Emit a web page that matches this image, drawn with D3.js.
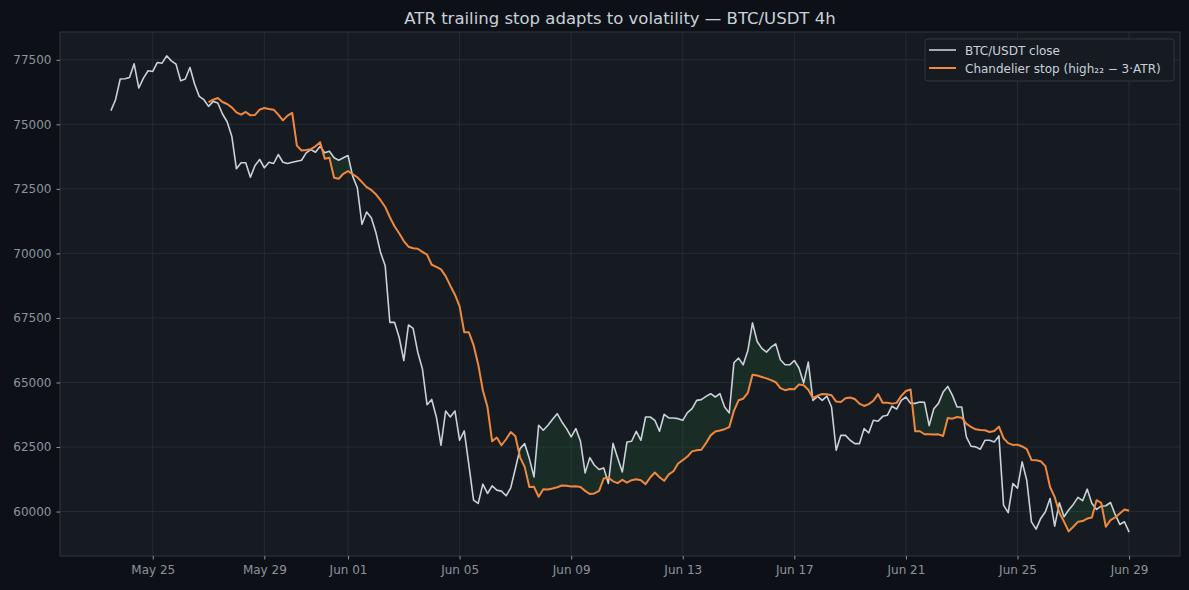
<!DOCTYPE html>
<html>
<head>
<meta charset="utf-8">
<script src="https://cdn.jsdelivr.net/npm/d3@7"></script>
<style>
  html, body { margin: 0; padding: 0; background: #0d1117; }
  #chart { width: 1189px; height: 590px; }
  text { font-family: "DejaVu Sans", sans-serif; }
</style>
</head>
<body>
<div id="chart"></div>
<script>
// BTC/USDT 4h candles, first close at May 23 12:00
var startTime = new Date(2024, 4, 23, 12, 0);
var stepHours = 4;

var closeValues = [
  75530, 75955, 76755, 76766, 76817, 77345, 76407, 76793, 77075, 77050,
  77397, 77370, 77655, 77460, 77334, 76689, 76755, 77203, 76561, 76083,
  75955, 75696, 75890, 75827, 75400, 75100, 74540, 73278, 73510, 73510,
  72954, 73406, 73638, 73316, 73533, 73483, 73831, 73533, 73483, 73533,
  73572, 73610, 73896, 74024, 73920, 74152, 73896, 73958, 73703, 73610,
  73703, 73792, 72993, 72544, 71127, 71602, 71385, 70806, 70033, 69518,
  67330, 67330, 66751, 65850, 67227, 67099, 66172, 65528, 64137, 64343,
  63663, 62568, 63895, 63663, 63895, 62761, 63122, 61794, 60443, 60314,
  61060, 60700, 60997, 60829, 60790, 60610, 60919, 61665, 62437, 62630,
  62051, 61343, 63341, 63148, 63341, 63573, 63792, 63470, 63212, 62891,
  63212, 62722, 61498, 62089, 61794, 61627, 61691, 61085, 62640, 62076,
  61536, 62695, 62722, 63109, 62761, 63663, 63663, 63534, 63109, 63766,
  63625, 63625, 63598, 63534, 63831, 63985, 64307, 64334, 64461, 64565,
  64437, 64565, 64051, 63819, 65762, 65943, 65685, 66237, 67307, 66585,
  66320, 66174, 66366, 66495, 65878, 65685, 65685, 65852, 65560, 64977,
  65788, 64307, 64461, 64307, 64474, 64051, 62373, 62952, 62952, 62761,
  62630, 62630, 63212, 63044, 63534, 63495, 63688, 63727, 64080, 63970,
  64307, 64437, 64190, 64190, 64243, 64230, 63330, 63985, 64190, 64628,
  64846, 64500, 64051, 64051, 62891, 62529, 62505, 62414, 62761, 62761,
  62697, 62929, 60250, 59955, 61085, 60905, 61923, 61200, 59600, 59320,
  59733, 59990, 60506, 59436, 60340, 59800, 60057, 60277, 60547, 60420,
  60868, 60314, 60082, 60210, 60223, 60350, 59887, 59500, 59604, 59200
];

// chandelier stop, undefined for the first 21 bars (22-bar lookback)
var stopValues = [
  null, null, null, null, null, null, null, null, null, null,
  null, null, null, null, null, null, null, null, null, null,
  null, 75862, 75955, 76020, 75866, 75789, 75658, 75465, 75376, 75480,
  75350, 75365, 75570, 75635, 75597, 75570, 75376, 75155, 75337, 75440,
  74178, 73985, 74010, 74040, 74150, 74307, 73664, 73703, 72931, 72892,
  73085, 73186, 73070, 72950, 72760, 72570, 72460, 72290, 72060, 71800,
  71400, 71050, 70780, 70480, 70260, 70200, 70180, 70060, 69950, 69560,
  69480, 69380, 69120, 68750, 68400, 67950, 66946, 66946, 66450, 65700,
  64700, 64049, 62722, 62865, 62568, 62800, 63080, 62920, 62100, 61730,
  60950, 60958, 60572, 60860, 60855, 60890, 60940, 61010, 61000, 60970,
  60980, 60950, 60800, 60680, 60700, 60800, 61280, 61318, 61170, 61100,
  61230, 61120, 61215, 61254, 61215, 61060, 61320, 61511, 61330, 61190,
  61440, 61560, 61860, 61990, 62130, 62330, 62373, 62395, 62650, 62950,
  63100, 63140, 63190, 63270, 63900, 64310, 64370, 64600, 65300, 65270,
  65215, 65160, 65090, 65010, 64784, 64700, 64750, 64735, 64920, 64890,
  64720, 64400, 64490, 64555, 64540, 64505, 64260, 64243, 64390, 64420,
  64360, 64180, 64090, 64160, 64290, 64550, 64218, 64218, 64180, 64210,
  64480, 64670, 64725, 63109, 63109, 62994, 62994, 62981, 62990, 62929,
  63625, 63598, 63663, 63637, 63405, 63276, 63186, 63160, 63148, 63080,
  63120, 63290, 62840, 62650, 62580, 62592, 62520, 62420, 62000, 61987,
  61950, 61760, 60950, 60560, 59950, 59610, 59230, 59410, 59600, 59630,
  59730, 59770, 60440, 60340, 59410, 59668, 59771, 59926, 60082, 60030
];

var xTickDates = ["2024-05-25", "2024-05-29", "2024-06-01", "2024-06-05", "2024-06-09",
                  "2024-06-13", "2024-06-17", "2024-06-21", "2024-06-25", "2024-06-29"];
var yTickValues = [60000, 62500, 65000, 67500, 70000, 72500, 75000, 77500];

var titleText = "ATR trailing stop adapts to volatility \u2014 BTC/USDT 4h";
var legendLabels = ["BTC/USDT close", "Chandelier stop (high\u2082\u2082 \u2212 3\u00b7ATR)"];

// colours
var bgOuter = "#0d1117", bgPlot = "#161b22", gridColor = "#2a3038",
    spineColor = "#30363d", textColor = "#8b949e", closeColor = "#c9d1d9",
    stopColor = "#f0883e", fillColor = "#2ea043";

// set the dimensions and margins of the graph
var margin = {top: 32, right: 9, bottom: 34, left: 60},
    width = 1189 - margin.left - margin.right,
    height = 590 - margin.top - margin.bottom;

var parseDay = d3.timeParse("%Y-%m-%d");

var data = closeValues.map(function(c, i) {
  return {
    t: d3.timeHour.offset(startTime, i * stepHours),
    close: c,
    stop: stopValues[i]
  };
});

var svg = d3.select("#chart")
  .append("svg")
    .attr("width", width + margin.left + margin.right)
    .attr("height", height + margin.top + margin.bottom)
    .style("background", bgOuter);

svg.append("text")
  .attr("x", 620)
  .attr("y", 24)
  .attr("text-anchor", "middle")
  .attr("fill", "#c9d1d9")
  .style("font-size", "16.5px")
  .text(titleText);

var g = svg.append("g")
  .attr("transform", "translate(" + margin.left + "," + margin.top + ")");

g.append("rect")
  .attr("width", width)
  .attr("height", height)
  .attr("fill", bgPlot);

// scales with 5% padding like matplotlib
var tExt = d3.extent(data, function(d) { return d.t; });
var tPad = (tExt[1] - tExt[0]) * 0.05;
var x = d3.scaleTime()
  .domain([new Date(+tExt[0] - tPad), new Date(+tExt[1] + tPad)])
  .range([0, width]);

var allVals = closeValues.concat(stopValues.filter(function(v) { return v != null; }));
var vMin = d3.min(allVals), vMax = d3.max(allVals);
var vPad = (vMax - vMin) * 0.05;
var y = d3.scaleLinear()
  .domain([vMin - vPad, vMax + vPad])
  .range([height, 0]);

var xTicks = xTickDates.map(parseDay);

// grid
g.append("g")
  .selectAll("line")
  .data(xTicks)
  .enter()
  .append("line")
    .attr("x1", function(d) { return x(d); })
    .attr("x2", function(d) { return x(d); })
    .attr("y1", 0)
    .attr("y2", height)
    .attr("stroke", gridColor)
    .attr("stroke-width", 0.8);

g.append("g")
  .selectAll("line")
  .data(yTickValues)
  .enter()
  .append("line")
    .attr("x1", 0)
    .attr("x2", width)
    .attr("y1", function(d) { return y(d); })
    .attr("y2", function(d) { return y(d); })
    .attr("stroke", gridColor)
    .attr("stroke-width", 0.8);

// green fill where close is above the stop: area between the lines clipped above the stop line
var stopData = data.filter(function(d) { return d.stop != null; });

g.append("clipPath")
  .attr("id", "aboveStop")
  .append("path")
    .datum(stopData)
    .attr("d", d3.area()
      .x(function(d) { return x(d.t); })
      .y0(-10)
      .y1(function(d) { return y(d.stop); }));

g.append("path")
  .datum(stopData)
  .attr("clip-path", "url(#aboveStop)")
  .attr("fill", fillColor)
  .attr("fill-opacity", 0.13)
  .attr("d", d3.area()
    .x(function(d) { return x(d.t); })
    .y0(function(d) { return y(d.stop); })
    .y1(function(d) { return y(d.close); }));

// lines
g.append("path")
  .datum(data)
  .attr("fill", "none")
  .attr("stroke", closeColor)
  .attr("stroke-width", 1.6)
  .attr("stroke-linejoin", "round")
  .attr("d", d3.line()
    .x(function(d) { return x(d.t); })
    .y(function(d) { return y(d.close); }));

g.append("path")
  .datum(stopData)
  .attr("fill", "none")
  .attr("stroke", stopColor)
  .attr("stroke-width", 2)
  .attr("stroke-linejoin", "round")
  .attr("d", d3.line()
    .x(function(d) { return x(d.t); })
    .y(function(d) { return y(d.stop); }));

// frame
g.append("rect")
  .attr("width", width)
  .attr("height", height)
  .attr("fill", "none")
  .attr("stroke", spineColor)
  .attr("stroke-width", 1);

// X axis
var xAxis = g.append("g")
  .attr("transform", "translate(0," + height + ")")
  .call(d3.axisBottom(x)
    .tickValues(xTicks)
    .tickSize(3.5)
    .tickPadding(6)
    .tickFormat(d3.timeFormat("%b %d")));

// Y axis
var yAxis = g.append("g")
  .call(d3.axisLeft(y)
    .tickValues(yTickValues)
    .tickSize(3.5)
    .tickPadding(5)
    .tickFormat(d3.format("d")));

[xAxis, yAxis].forEach(function(ax) {
  ax.select(".domain").remove();
  ax.selectAll(".tick line").attr("stroke", textColor);
  ax.selectAll(".tick text")
    .attr("fill", textColor)
    .style("font-family", "DejaVu Sans, sans-serif")
    .style("font-size", "12px");
});

// legend
var legend = svg.append("g")
  .attr("transform", "translate(925,39)");

legend.append("rect")
  .attr("width", 249)
  .attr("height", 42)
  .attr("rx", 3)
  .attr("fill", bgPlot)
  .attr("fill-opacity", 0.85)
  .attr("stroke", spineColor);

[closeColor, stopColor].forEach(function(col, i) {
  var row = legend.append("g")
    .attr("transform", "translate(0," + (11 + i * 18) + ")");
  row.append("line")
    .attr("x1", 4)
    .attr("x2", 31)
    .attr("stroke", col)
    .attr("stroke-width", i == 0 ? 1.6 : 2);
  row.append("text")
    .attr("x", 40)
    .attr("y", 4.5)
    .attr("fill", "#c9d1d9")
    .style("font-size", "12px")
    .text(legendLabels[i]);
});
</script>
</body>
</html>
